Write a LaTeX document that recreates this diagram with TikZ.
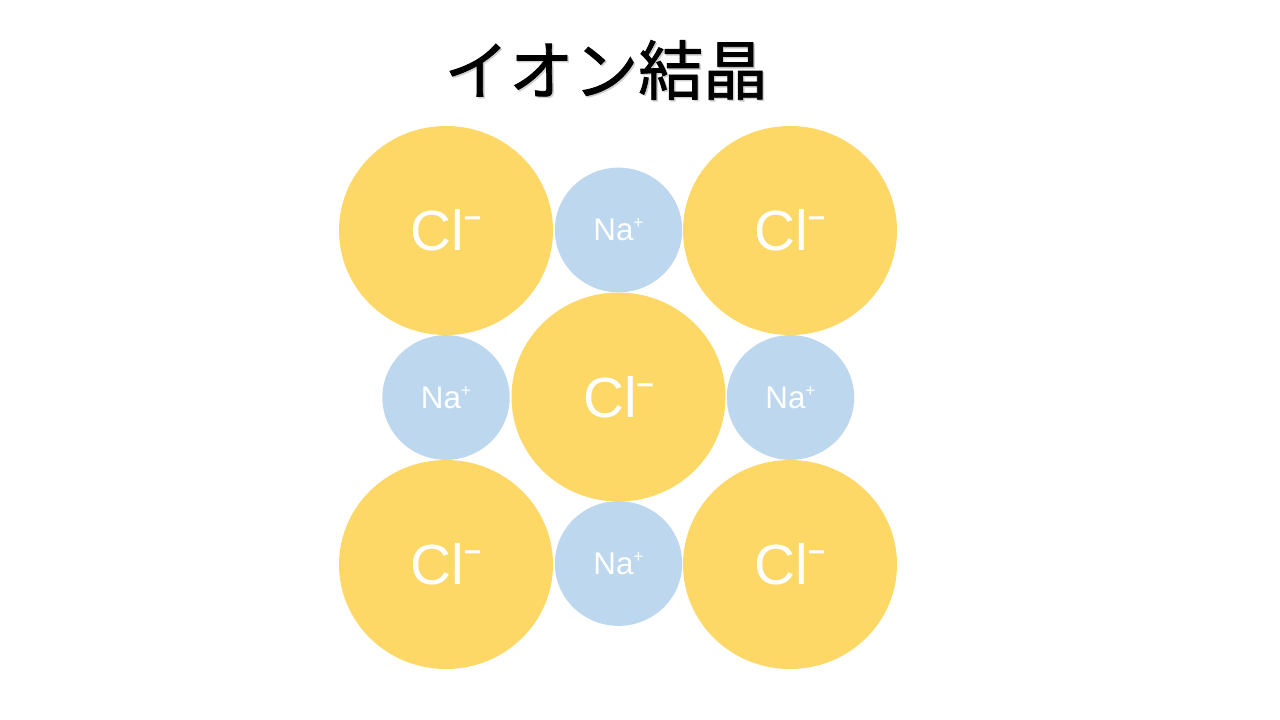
\documentclass[tikz,border=0pt]{standalone}
\usepackage{fontspec}
\setmainfont{Liberation Sans}
\newfontfamily\cjk[FakeBold=1.2]{Noto Sans CJK JP}
\usetikzlibrary{shapes.geometric}
\definecolor{clgold}{HTML}{FDD866}
\definecolor{nablue}{HTML}{BDD7EE}
\definecolor{shadowgray}{HTML}{D0D0D0}
\tikzset{
  clion/.style={ellipse, fill=clgold, draw=none, inner sep=0pt,
    minimum width=160.5pt, minimum height=156.75pt, text=white,
    font=\fontsize{42.5pt}{42pt}\selectfont},
  naion/.style={ellipse, fill=nablue, draw=none, inner sep=0pt,
    minimum width=95.5pt, minimum height=93.5pt, text=white,
    font=\fontsize{23.5pt}{23pt}\selectfont},
  titletext/.style={font=\cjk\fontsize{48.5pt}{50pt}\selectfont}
}
\newcommand{\clminus}{Cl\raisebox{0.42em}{\fontsize{23pt}{23pt}\selectfont\textbf{–}}}
\newcommand{\naplus}{Na\raisebox{0.38em}{\fontsize{13pt}{13pt}\selectfont +}}
\begin{document}
\begin{tikzpicture}[x=0.75pt,y=-0.75pt]
\useasboundingbox (0,0) rectangle (1280,720);
\fill[white] (0,0) rectangle (1280,720);
% title
\node[titletext, text=shadowgray] (titleshadow) at (607.5,71.5) {イオン結晶};
\node[titletext, text=black] (title) at (606,70) {イオン結晶};
% Cl ions
\node[clion] (cl1) at (446,230.5) {\clminus};
\node[clion] (cl2) at (790,230.5) {\clminus};
\node[clion] (cl3) at (618.5,397) {\clminus};
\node[clion] (cl4) at (446,564.5) {\clminus};
\node[clion] (cl5) at (790,564.5) {\clminus};
% Na ions
\node[naion] (na1) at (618.5,230) {\naplus};
\node[naion] (na2) at (446,397.5) {\naplus};
\node[naion] (na3) at (790.5,397.5) {\naplus};
\node[naion] (na4) at (618.5,563.5) {\naplus};
\end{tikzpicture}
\end{document}
